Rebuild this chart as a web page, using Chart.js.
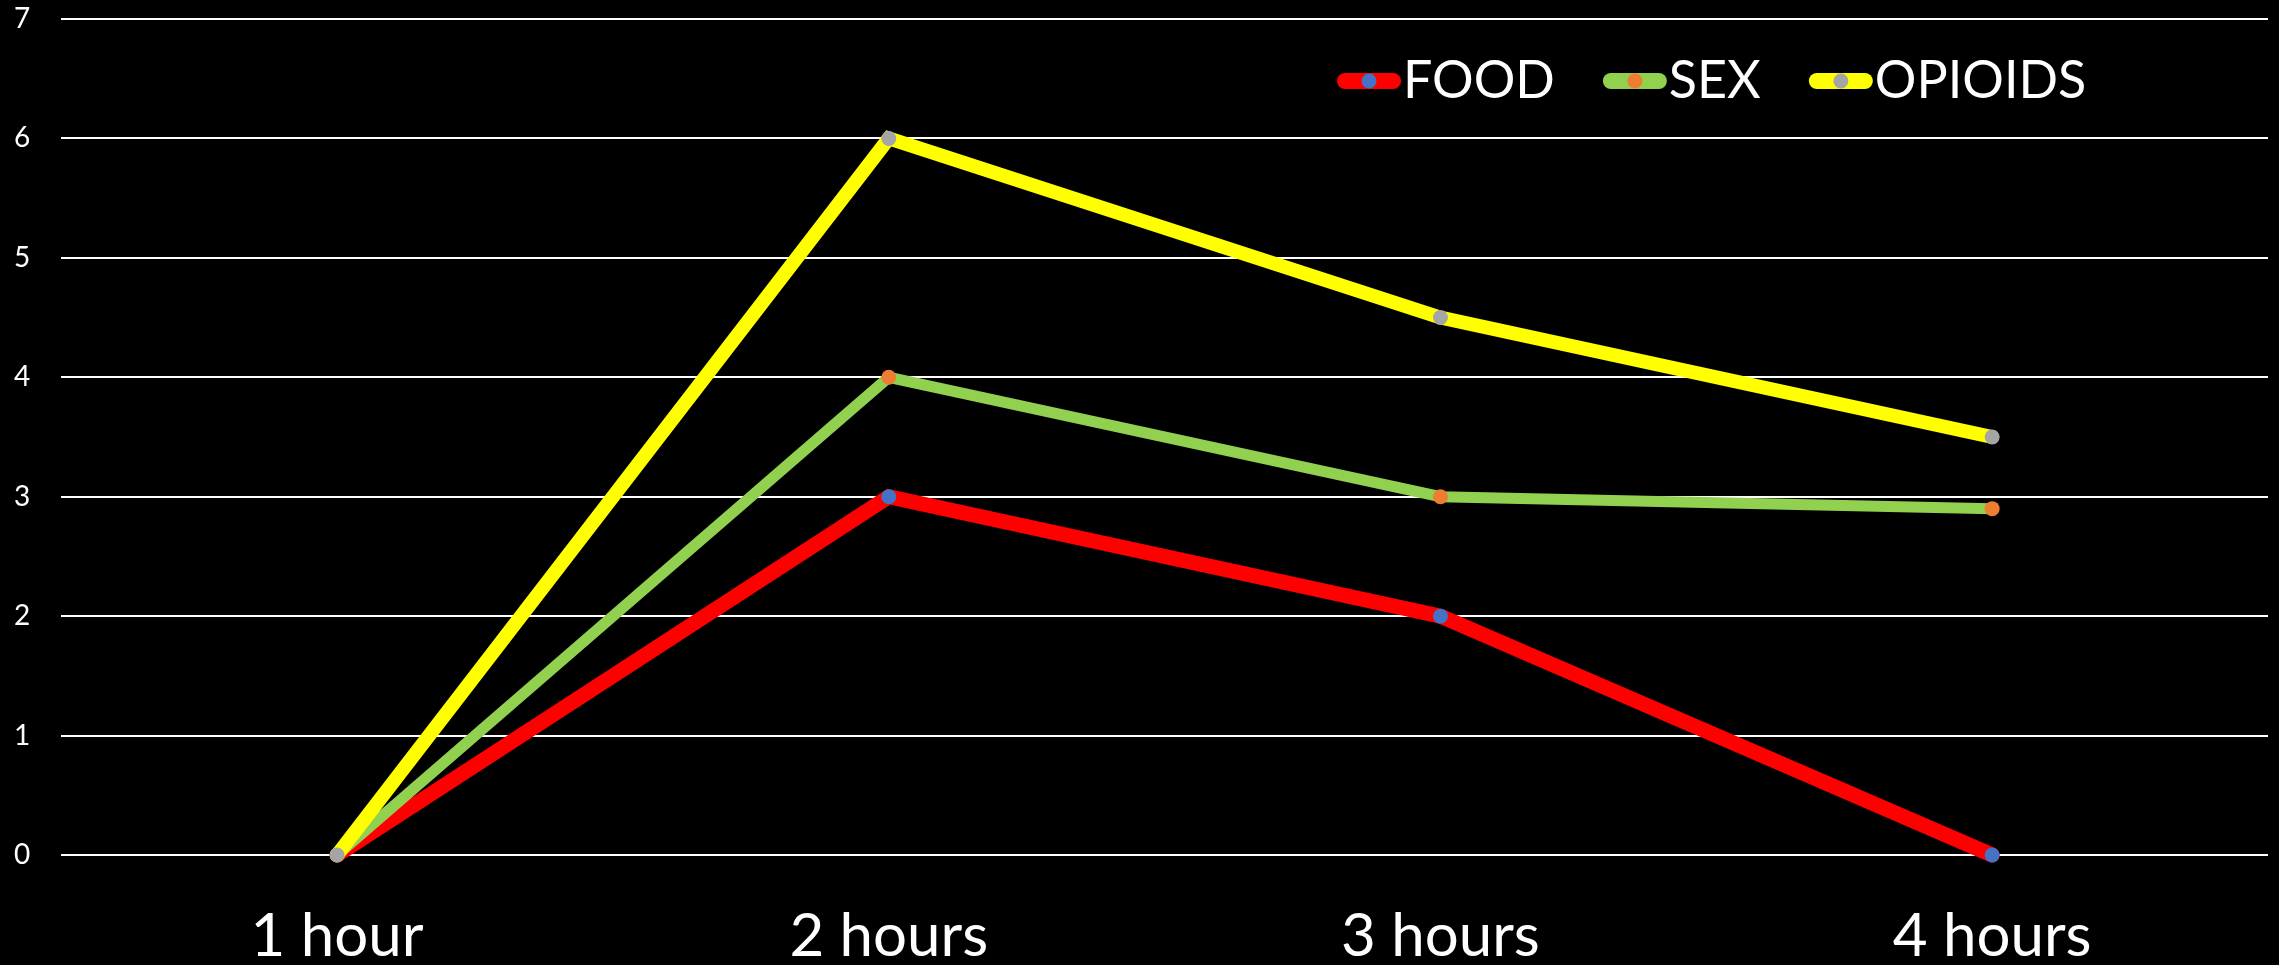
<!DOCTYPE html>
<html>
<head>
<meta charset="utf-8">
<script src="https://cdn.jsdelivr.net/npm/chart.js@4/dist/chart.umd.min.js"></script>
<style>
  html, body { margin: 0; padding: 0; background: #000; }
  #wrap { width: 2279px; height: 965px; position: relative; }
</style>
</head>
<body>
<div id="wrap"><canvas id="c"></canvas></div>
<script>
// ---- data ----
const categories = ['1 hour', '2 hours', '3 hours', '4 hours'];
const seriesNames = ['FOOD', 'SEX', 'OPIOIDS'];
const foodValues = [0, 3, 2, 0];
const sexValues = [0, 4, 3, 2.9];
const opioidValues = [0, 6, 4.5, 3.5];
const yTicks = [0, 1, 2, 3, 4, 5, 6, 7];

const lineColors = ['#FF0000', '#92D050', '#FFFF00'];
const pointColors = ['#4472C4', '#ED7D31', '#A5A5A5'];
const lineWidths = [15, 11, 14];
const seriesValues = [foodValues, sexValues, opioidValues];

const datasets = seriesNames.map((name, i) => ({
  label: name,
  data: seriesValues[i],
  borderColor: lineColors[i],
  backgroundColor: pointColors[i],
  borderWidth: lineWidths[i],
  borderCapStyle: 'round',
  borderJoinStyle: 'miter',
  pointRadius: 7.5,
  pointHoverRadius: 7.5,
  pointBorderWidth: 0,
  pointBackgroundColor: pointColors[i],
  tension: 0,
  fill: false,
  clip: false,
  order: seriesNames.length - 1 - i
}));

// custom legend drawn over the plot area (top-right), like the original
const legendPlugin = {
  id: 'overlayLegend',
  afterDraw(chart) {
    const ctx = chart.ctx;
    const startX = 1337;
    const cy = 81;
    const pillW = 64, pillH = 16;
    const textGap = 2, itemGap = 48;
    const fontSize = 52;
    ctx.save();
    ctx.font = fontSize + 'px Lato';
    let x = startX;
    chart.data.datasets.forEach((ds) => {
      ctx.fillStyle = ds.borderColor;
      ctx.beginPath();
      const r = pillH / 2;
      ctx.moveTo(x + r, cy - r);
      ctx.lineTo(x + pillW - r, cy - r);
      ctx.arc(x + pillW - r, cy, r, -Math.PI / 2, Math.PI / 2);
      ctx.lineTo(x + r, cy + r);
      ctx.arc(x + r, cy, r, Math.PI / 2, Math.PI * 1.5);
      ctx.closePath();
      ctx.fill();
      ctx.fillStyle = ds.pointBackgroundColor;
      ctx.beginPath();
      ctx.arc(x + pillW / 2, cy, 7.5, 0, Math.PI * 2);
      ctx.fill();
      const tx = x + pillW + textGap;
      const w = ctx.measureText(ds.label).width;
      ctx.fillStyle = '#FFFFFF';
      ctx.textBaseline = 'alphabetic';
      ctx.textAlign = 'left';
      ctx.fillText(ds.label, tx, 98);
      x = tx + w + itemGap;
    });
    ctx.restore();
  }
};

new Chart(document.getElementById('c'), {
  type: 'line',
  data: { labels: categories, datasets },
  options: {
    responsive: true,
    maintainAspectRatio: false,
    animation: false,
    events: [],
    layout: { padding: { left: 14, right: 11, top: 19, bottom: 0 } },
    plugins: {
      legend: { display: false },
      tooltip: { enabled: false },
      title: { display: false }
    },
    scales: {
      x: {
        type: 'category',
        offset: true,
        grid: {
          display: true,
          drawOnChartArea: false,
          drawTicks: true,
          tickLength: 54,
          color: 'rgba(0,0,0,0)',
          tickColor: 'rgba(0,0,0,0)'
        },
        border: { display: false },
        ticks: {
          color: '#FFFFFF',
          padding: 0,
          maxRotation: 0,
          autoSkip: false,
          font: { family: 'Lato', size: 60, lineHeight: '56px' }
        }
      },
      y: {
        min: 0,
        max: 7,
        afterBuildTicks(scale) { scale.ticks = yTicks.map(v => ({ value: v })); },
        grid: {
          color: '#FFFFFF',
          lineWidth: 2,
          drawTicks: true,
          tickLength: 31,
          tickColor: 'rgba(0,0,0,0)'
        },
        border: { display: false },
        ticks: {
          color: '#FFFFFF',
          padding: 0,
          font: { family: 'Lato', size: 28 }
        }
      }
    }
  },
  plugins: [legendPlugin]
});
</script>
</body>
</html>
